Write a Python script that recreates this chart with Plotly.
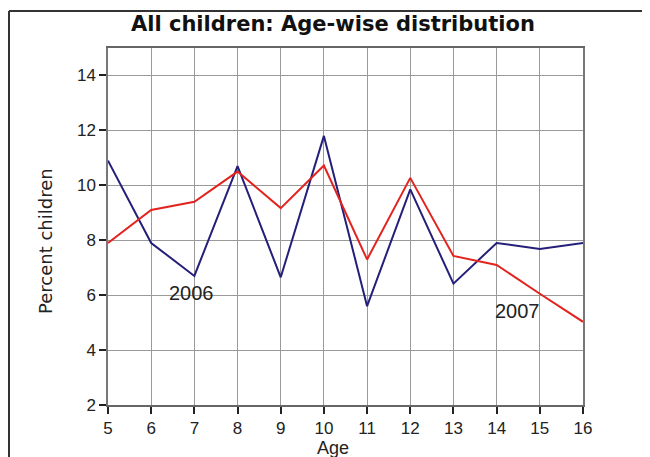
import plotly.graph_objects as go

ages = [5, 6, 7, 8, 9, 10, 11, 12, 13, 14, 15, 16]
pct_2006 = [10.9, 7.9, 6.7, 10.7, 6.65, 11.8, 5.6, 9.85, 6.42, 7.9, 7.68, 7.9]
pct_2007 = [7.9, 9.1, 9.4, 10.5, 9.17, 10.72, 7.3, 10.27, 7.43, 7.1, 6.05, 5.03]
y_ticks = [2, 4, 6, 8, 10, 12, 14]

OFF = 8  # page body margin
W, H = 650 - OFF, 457 - OFF
# plot area in reference (screen) pixels
L, R, T, B = 108, 583, 48, 405

fig = go.Figure()
fig.add_trace(go.Scatter(x=ages, y=pct_2006, mode="lines", name="2006",
                         line=dict(color="#241f78", width=2)))
fig.add_trace(go.Scatter(x=ages, y=pct_2007, mode="lines", name="2007",
                         line=dict(color="#e3231e", width=2)))

def px(x):
    return (x - L) / (R - L)

def py(y):
    return (B - y) / (B - T)

axis_font = dict(family="Liberation Sans, Arial", size=17, color="#222")
fig.update_layout(
    width=W, height=H,
    margin=dict(l=L - OFF, r=650 - R, t=T - OFF, b=457 - B, pad=0),
    paper_bgcolor="white", plot_bgcolor="white",
    showlegend=False,
    xaxis=dict(range=[5, 16], tickvals=ages, ticks="outside", ticklen=7, tickwidth=2,
               tickcolor="#222", showgrid=True, gridcolor="#9a9a9a", gridwidth=1,
               showline=True, linecolor="#666", linewidth=2, mirror=True,
               zeroline=False, tickfont=axis_font),
    yaxis=dict(range=[2, 15], tickvals=y_ticks, ticks="outside", ticklen=7, tickwidth=2,
               tickcolor="#222", showgrid=True, gridcolor="#9a9a9a", gridwidth=1,
               showline=True, linecolor="#777", linewidth=1.5, mirror=True,
               zeroline=False, tickfont=axis_font),
    annotations=[
        dict(text="<b>All children: Age-wise distribution</b>", xref="paper", yref="paper",
             x=px(333), y=py(24), showarrow=False, xanchor="center", yanchor="middle",
             font=dict(family="DejaVu Sans", size=21, color="#111")),
        dict(text="Percent children", xref="paper", yref="paper", x=px(45), y=py(241),
             textangle=-90, showarrow=False, xanchor="center", yanchor="middle",
             font=dict(family="DejaVu Sans", size=18, color="#222")),
        dict(text="Age", xref="paper", yref="paper", x=px(333), y=py(448),
             showarrow=False, xanchor="center", yanchor="middle",
             font=dict(family="Liberation Sans, Arial", size=18, color="#222")),
        dict(text="2006", x=6.94, y=6.08, showarrow=False, xanchor="center", yanchor="middle",
             font=dict(family="Liberation Sans, Arial", size=20, color="#222")),
        dict(text="2007", x=14.49, y=5.43, showarrow=False, xanchor="center", yanchor="middle",
             font=dict(family="Liberation Sans, Arial", size=20, color="#222")),
    ],
    shapes=[
        dict(type="line", xref="paper", yref="paper", x0=px(9), x1=px(650), y0=py(11), y1=py(11),
             line=dict(color="#333", width=2)),
        dict(type="line", xref="paper", yref="paper", x0=px(9), x1=px(9), y0=py(11), y1=py(457),
             line=dict(color="#333", width=2)),
    ],
)

fig.write_html("out.html", config={"displayModeBar": False},
               post_script="document.documentElement.style.overflow='hidden';document.body.style.overflow='hidden';")
